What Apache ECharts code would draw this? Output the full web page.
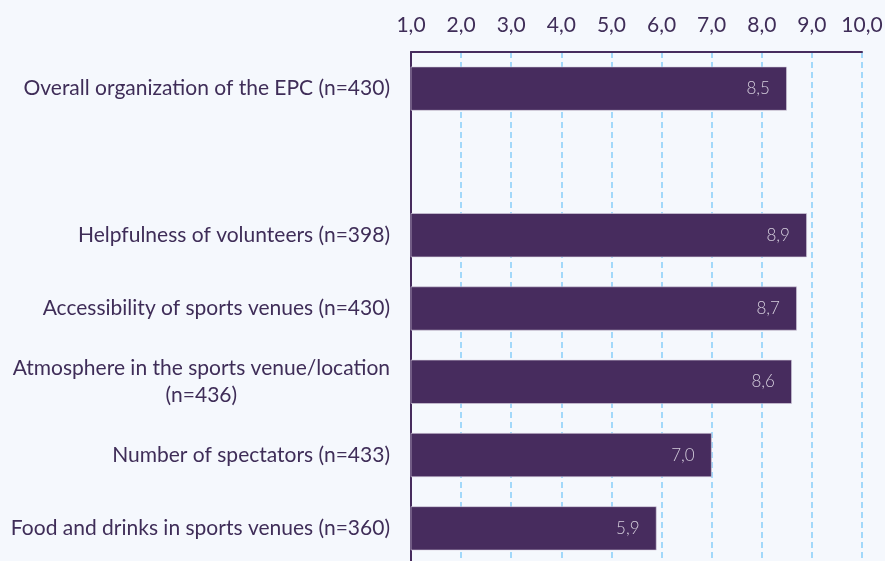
<!DOCTYPE html>
<html>
<head>
<meta charset="utf-8">
<script src="https://cdn.jsdelivr.net/npm/echarts@6/dist/echarts.min.js"></script>
<style>
  html, body { margin: 0; padding: 0; background: #f5f8fd; }
  #chart { width: 885px; height: 561px; }
</style>
</head>
<body>
<div id="chart"></div>
<script>
// categories, top to bottom ('' is the empty gap row)
var categories = [
    'Overall organization of the EPC (n=430)',
    '',
    'Helpfulness of volunteers (n=398)',
    'Accessibility of sports venues (n=430)',
    'Atmosphere in the sports venue/location\n(n=436)',
    'Number of spectators (n=433)',
    'Food and drinks in sports venues (n=360)'
];
var scores = [8.5, null, 8.9, 8.7, 8.6, 7.0, 5.9];
var axisMin = 1;
var axisMax = 10;

(function () {
    var myChart = echarts.init(document.getElementById('chart'));

    var purple = '#472c5e';
    var textColor = '#3f2d58';

    function comma(v, digits) {
        return v.toFixed(digits).replace('.', ',');
    }

    var option = {
        backgroundColor: '#f5f8fd',
        animation: false,
        grid: {
            left: 411,
            width: 451,
            top: 52,
            height: 513,
            containLabel: false,
            outerBoundsMode: 'none'
        },
        xAxis: {
            type: 'value',
            position: 'top',
            min: axisMin,
            max: axisMax,
            interval: 1,
            axisLine: { show: true, lineStyle: { color: purple, width: 2 } },
            axisTick: { show: false },
            axisLabel: {
                margin: 16,
                color: textColor,
                fontFamily: 'Lato',
                fontSize: 21,
                formatter: function (v) { return comma(v, 1); }
            },
            splitLine: {
                show: true,
                lineStyle: { color: '#86cdf9', type: [6, 4], width: 1.5 }
            }
        },
        yAxis: {
            type: 'category',
            inverse: true,
            data: categories,
            axisLine: { show: true, lineStyle: { color: purple, width: 2 } },
            axisTick: { show: false },
            axisLabel: {
                margin: 21,
                color: textColor,
                fontFamily: 'Lato',
                fontSize: 21,
                lineHeight: 27,
                formatter: function (v) {
                    if (!v) return '';
                    return v.split('\n').map(function (s) { return '{c|' + s + '}'; }).join('\n');
                },
                rich: {
                    c: {
                        align: 'center',
                        color: textColor,
                        fontFamily: 'Lato',
                        fontSize: 21,
                        lineHeight: 27
                    }
                }
            }
        },
        series: [
            {
                type: 'bar',
                data: scores,
                barWidth: 44,
                itemStyle: {
                    color: purple,
                    borderColor: '#d8d2e0',
                    borderWidth: 0.6
                },
                label: {
                    show: true,
                    position: 'insideRight',
                    distance: 17,
                    color: '#d4cedc',
                    fontFamily: 'Lato',
                    fontWeight: 300,
                    fontSize: 17,
                    formatter: function (p) { return comma(p.value, 1); }
                }
            }
        ]
    };

    myChart.setOption(option);
})();
</script>
</body>
</html>
